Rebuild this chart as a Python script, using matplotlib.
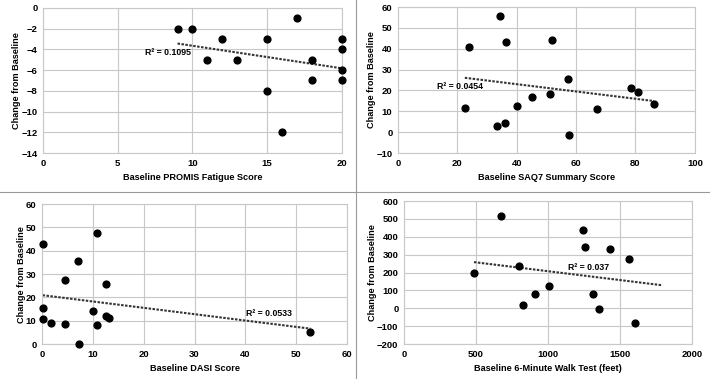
import numpy as np
import matplotlib.pyplot as plt
from matplotlib.lines import Line2D

plt.rcParams["font.family"] = ["Liberation Sans", "DejaVu Sans"]
plt.rcParams["font.weight"] = "bold"

# PROMIS fatigue
promis_x = [9, 10, 11, 12, 13, 15, 15, 16, 17, 18, 18, 20, 20, 20, 20]
promis_y = [-2, -2, -5, -3, -5, -3, -8, -12, -1, -5, -7, -3, -4, -6, -7]

# SAQ7 summary
saq_x = [22.5, 23.8, 34.4, 33.5, 36.1, 36.3, 40.1, 45.2, 51.1, 52.0, 57.3, 57.6, 66.9, 78.4, 80.7, 86.2]
saq_y = [11.4, 40.8, 55.5, 3.1, 4.6, 43.1, 12.4, 17.0, 18.3, 44.3, 25.5, -1.5, 11.0, 21.3, 19.4, 13.7]

# DASI
dasi_x = [0.1, 0.1, 0.1, 1.8, 4.6, 4.6, 7.1, 7.3, 10.0, 10.8, 10.8, 12.5, 12.5, 13.2, 52.8]
dasi_y = [42.9, 15.4, 10.7, 9.0, 27.6, 8.7, 35.7, 0.0, 14.3, 47.5, 8.3, 25.9, 11.9, 11.0, 5.3]

# 6-minute walk test
walk_x = [486, 676, 801, 824, 910, 1009, 1241, 1257, 1315, 1354, 1433, 1562, 1602]
walk_y = [197, 518, 236, 16, 81, 126, 438, 341, 81, -3, 331, 275, -83]

panels = [
    dict(x=promis_x, y=promis_y, xlabel="Baseline PROMIS Fatigue Score", r2="R² = 0.1095",
         xlim=(0, 20), xstep=5, ylim=(-14, 0), ystep=2, label_at=(6.8, -4.3), forward=0,
         rect=[0.0606, 0.5963, 0.421, 0.3826]),
    dict(x=saq_x, y=saq_y, xlabel="Baseline SAQ7 Summary Score", r2="R² = 0.0454",
         xlim=(0, 100), xstep=20, ylim=(-10, 60), ystep=10, label_at=(13, 22), forward=0,
         rect=[0.5606, 0.5963, 0.418, 0.385]),
    dict(x=dasi_x, y=dasi_y, xlabel="Baseline DASI Score", r2="R² = 0.0533",
         xlim=(0, 60), xstep=10, ylim=(0, 60), ystep=10, label_at=(40.2, 13), forward=0,
         rect=[0.0592, 0.0923, 0.4296, 0.369]),
    dict(x=walk_x, y=walk_y, xlabel="Baseline 6-Minute Walk Test (feet)", r2="R² = 0.037",
         xlim=(0, 2000), xstep=500, ylim=(-200, 600), ystep=100, label_at=(1140, 230), forward=190,
         rect=[0.569, 0.0923, 0.4056, 0.377]),
]

fig = plt.figure(figsize=(7.1, 3.79), dpi=100)

for p in panels:
    ax = fig.add_axes(p["rect"])
    x = np.array(p["x"], dtype=float)
    y = np.array(p["y"], dtype=float)
    ax.scatter(x, y, s=24, color="black", zorder=3, clip_on=False)
    slope, intercept = np.polyfit(x, y, 1)
    fx = np.linspace(x.min(), x.max() + p["forward"], 50)
    ax.plot(fx, slope * fx + intercept, color="#333333", linestyle=(0, (1.2, 0.7)), linewidth=1.5, zorder=2)
    ax.text(p["label_at"][0], p["label_at"][1], p["r2"], fontsize=6.3, fontweight="bold", va="center")
    ax.set_xlim(p["xlim"])
    ax.set_ylim(p["ylim"])
    ax.set_xticks(np.arange(p["xlim"][0], p["xlim"][1] + p["xstep"] / 2, p["xstep"]))
    ax.set_yticks(np.arange(p["ylim"][0], p["ylim"][1] + p["ystep"] / 2, p["ystep"]))
    ax.grid(True, color="#c8c8c8", linewidth=0.8)
    ax.set_axisbelow(True)
    for s in ax.spines.values():
        s.set_color("#c8c8c8")
        s.set_linewidth(0.8)
    ax.tick_params(length=0, labelsize=6.8, pad=4)
    for lab in ax.get_xticklabels() + ax.get_yticklabels():
        lab.set_fontweight("bold")
    ax.set_xlabel(p["xlabel"], fontsize=6.6, fontweight="bold", labelpad=4)
    ax.set_ylabel("Change from Baseline", fontsize=6.6, fontweight="bold", labelpad=0)

# panel dividers
fig.add_artist(Line2D([0.501, 0.501], [0.0, 1.0], color="#999999", linewidth=0.8))
fig.add_artist(Line2D([0.0, 1.0], [0.494, 0.494], color="#999999", linewidth=0.8))

fig.savefig("out.png", dpi=100)
